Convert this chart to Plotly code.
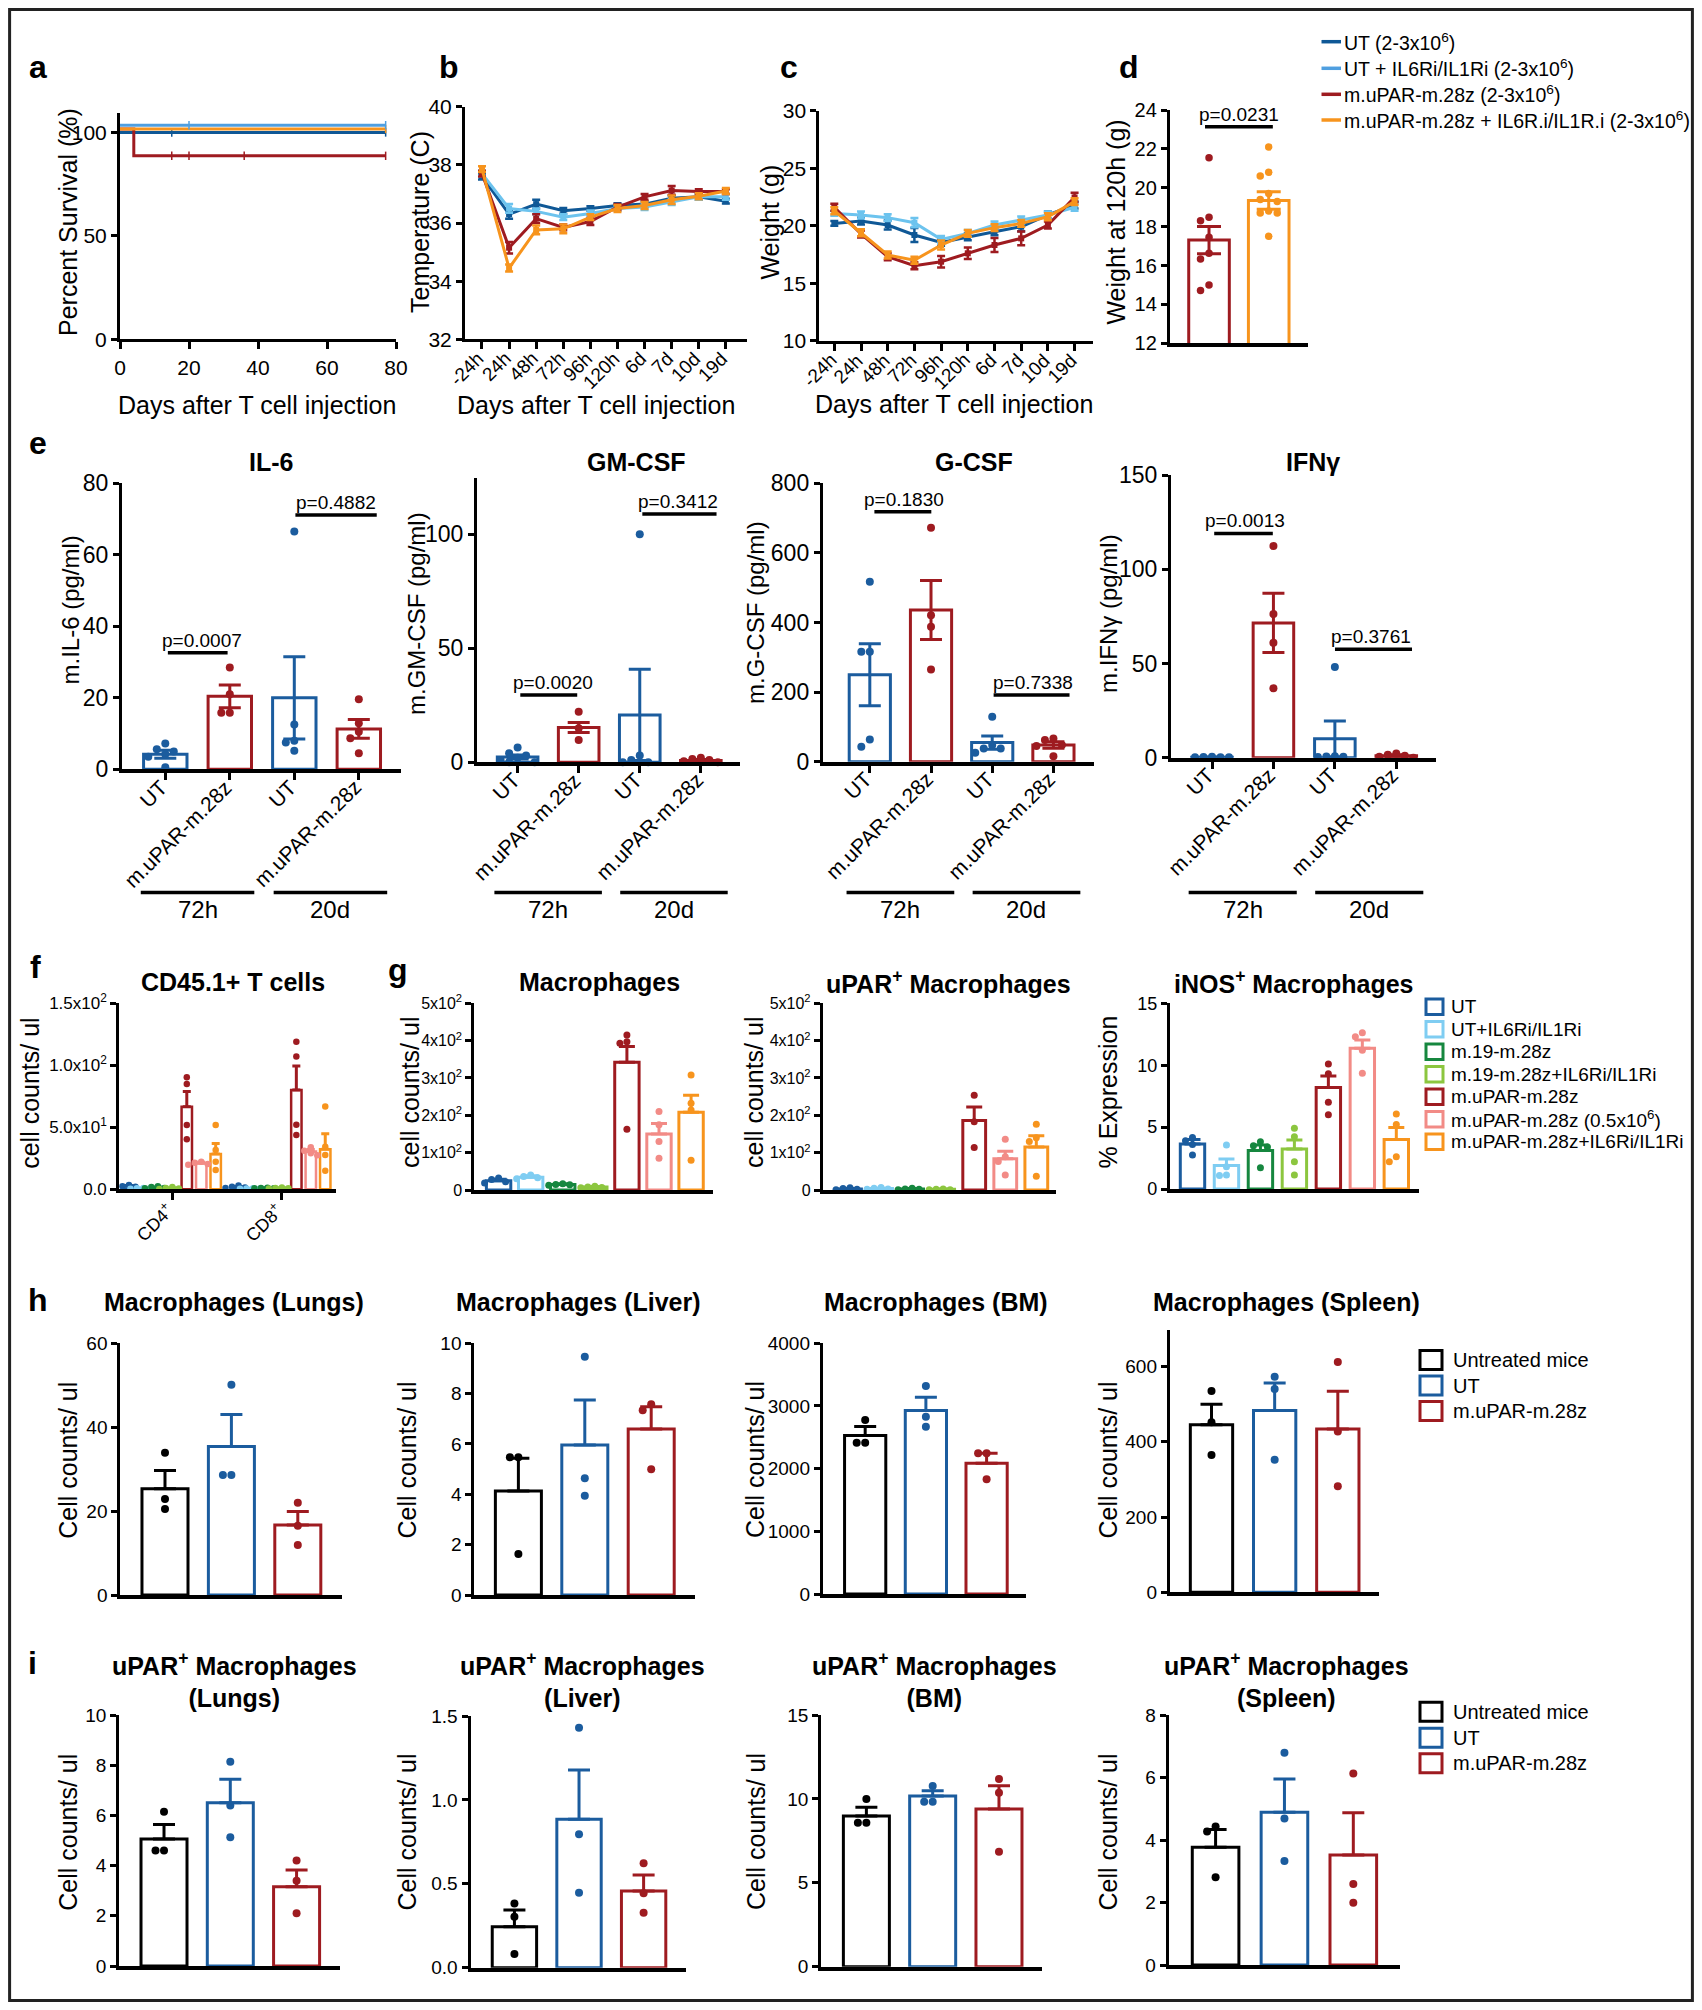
import plotly.graph_objects as go
import math

RW, RH = 1702, 2010          # reference pixel frame
W, H = 1686, 1994            # figure size (fits inside the page margins)
OFF = 8                      # page body margin
FONT = "Arial, Liberation Sans, Helvetica, sans-serif"

# ---------------- colours ----------------
C_UT = "#1b5c9e"
C_UT_IL = "#7fcdf2"
C_19 = "#16873f"
C_19_IL = "#8cc63f"
C_CAR = "#9e1b20"
C_CAR05 = "#f28b86"
C_CAR_IL = "#f7941d"
C_BLK = "#000000"
C_LINE_UT = "#0f5896"
C_LINE_UTIL = "#6cc3ee"
C_LEG_UTIL = "#4f9fe0"

# ---------------- data ----------------
# a: survival
surv_days = [0, 4, 77]
surv_ut = [100, 100, 100]
surv_ut_il = [103.5, 103.5, 103.5]
surv_car = [101.7, 88.7, 88.7]
surv_car_il = [101.7, 101.7, 101.7]
cens_ut = [15, 77]
cens_ut_il = [20, 77]
cens_car = [15, 20, 36, 77]
cens_car_il = [77]

# b, c: time course
time_labels = ["-24h", "24h", "48h", "72h", "96h", "120h", "6d", "7d", "10d", "19d"]
temp_ut = [37.6, 36.3, 36.65, 36.42, 36.5, 36.6, 36.65, 36.85, 36.9, 36.75]
temp_ut_il = [37.7, 36.5, 36.4, 36.2, 36.33, 36.5, 36.55, 36.72, 36.9, 36.9]
temp_car = [37.7, 35.15, 36.15, 35.85, 36.05, 36.55, 36.9, 37.12, 37.08, 37.08]
temp_car_il = [37.85, 34.45, 35.76, 35.8, 36.2, 36.5, 36.6, 36.8, 36.92, 37.1]
temp_ut_err = [0.1, 0.15, 0.15, 0.1, 0.08, 0.08, 0.1, 0.1, 0.1, 0.08]
temp_ut_il_err = [0.1, 0.15, 0.1, 0.1, 0.1, 0.08, 0.1, 0.1, 0.1, 0.1]
temp_car_err = [0.1, 0.2, 0.15, 0.1, 0.12, 0.1, 0.1, 0.15, 0.08, 0.08]
temp_car_il_err = [0.1, 0.12, 0.15, 0.15, 0.1, 0.12, 0.12, 0.15, 0.1, 0.1]

wt_ut = [20.2, 20.4, 20.06, 19.19, 18.55, 19.04, 19.48, 19.91, 20.93, 21.8]
wt_ut_il = [21.07, 20.93, 20.7, 20.26, 18.81, 19.33, 20.06, 20.49, 20.93, 21.6]
wt_car = [21.6, 19.28, 17.3, 16.52, 16.87, 17.6, 18.32, 18.9, 20.06, 22.46]
wt_car_il = [21.3, 19.39, 17.45, 17.0, 18.32, 19.33, 19.83, 20.2, 20.78, 22.09]
wt_ut_err = [0.2, 0.3, 0.4, 0.6, 0.3, 0.3, 0.3, 0.4, 0.3, 0.3]
wt_ut_il_err = [0.2, 0.3, 0.3, 0.4, 0.3, 0.3, 0.3, 0.3, 0.3, 0.3]
wt_car_err = [0.3, 0.3, 0.3, 0.3, 0.5, 0.5, 0.6, 0.6, 0.3, 0.4]
wt_car_il_err = [0.3, 0.3, 0.3, 0.3, 0.4, 0.3, 0.3, 0.3, 0.3, 0.3]

# d: weight at 120h
w120_mean = [17.31, 19.35]
w120_err = [0.7, 0.45]
w120_pts = [[21.55, 18.3, 18.48, 17.45, 16.63, 16.34, 15.0, 14.72],
            [22.1, 20.8, 20.6, 19.7, 19.4, 19.3, 18.8, 18.7, 18.7, 17.5]]

# e: cytokines
cyt_labels = ["UT", "m.uPAR-m.28z", "UT", "m.uPAR-m.28z"]
il6_mean = [4.2, 20.4, 20.0, 11.3]
il6_err = [1.1, 3.2, 11.5, 2.6]
il6_pts = [[7.2, 5.6, 5.0, 4.2, 3.5, 0.6], [28.5, 21.0, 15.8, 15.8],
           [66.5, 12.5, 8.0, 7.5, 5.2], [19.6, 12.9, 10.5, 8.7, 4.5]]
gm_mean = [2.3, 15.3, 20.8, 0.8]
gm_err = [0.9, 2.2, 20.0, 0.4]
gm_pts = [[6.5, 4.0, 3.0, 2.0, 1.0, 0.0, 0.0], [22.2, 14.9, 9.8],
          [100.0, 3.0, 1.0, 0.0, 0.0], [2.0, 1.0, 0.5, 0.0, 1.5]]
gcsf_mean = [250, 436, 55, 48]
gcsf_err = [89, 85, 19, 9]
gcsf_pts = [[517, 316, 316, 64, 43], [672, 421, 388, 265],
            [129, 38, 26, 38, 48], [67, 62, 48, 45, 16]]
ifn_mean = [0.3, 71.5, 10.0, 1.0]
ifn_err = [0.1, 15.7, 9.5, 0.5]
ifn_pts = [[0.5, 0.3, 0.2, 0.4, 0.3], [112.3, 76.2, 61.0, 36.8],
           [48.1, 0.8, 0.5, 0.4, 0.6], [2.2, 1.0, 0.0, 0.5, 1.5]]

# f: CD45.1+ T cells  (groups: UT, UT+IL, m.19, m.19+IL, m.uPAR, m.uPAR 0.5, m.uPAR+IL)
cd_groups = ["CD4<sup>+</sup>", "CD8<sup>+</sup>"]
cd4_mean = [2.5, 0.8, 1.5, 1.0, 66.5, 21.0, 28.5]
cd4_err = [0.5, 0.2, 0.4, 0.3, 12.3, 0.8, 8.5]
cd4_pts = [[3.5, 2.5, 2.0, 1.5], [1.0, 0.8, 0.6, 0.5], [2.5, 1.8, 1.0, 0.8], [1.8, 1.0, 0.6, 0.3],
           [90.3, 85.0, 51.9, 40.3], [22.3, 21.5, 20.5, 19.8], [51.9, 31.7, 22.3, 15.6]]
cd8_mean = [1.8, 0.6, 1.0, 1.0, 80.0, 30.5, 32.3]
cd8_err = [0.5, 0.2, 0.2, 0.3, 19.5, 1.5, 12.5]
cd8_pts = [[3.0, 2.0, 1.5, 1.0], [0.8, 0.6, 0.5, 0.4], [1.2, 1.0, 0.8, 0.8], [1.5, 1.0, 0.8, 0.6],
           [119.0, 107.0, 52.0, 43.8], [34.0, 31.0, 29.0, 27.5], [66.7, 34.4, 27.7, 15.0]]
cd_ticks = ["0.0", "5.0x10<sup>1</sup>", "1.0x10<sup>2</sup>", "1.5x10<sup>2</sup>"]

# g: macrophages
mac_mean = [25, 34, 15, 8, 342, 150, 208]
mac_err = [4, 4, 2, 1.5, 42, 28, 46]
mac_pts = [[32, 28, 22, 19], [40, 36, 33, 30], [17, 15, 14, 13], [10, 8, 7, 6],
           [415, 397, 393, 163], [210, 175, 130, 85], [308, 232, 214, 80]]
upar_mean = [3, 4, 3, 2, 186, 84, 115]
upar_err = [1, 1, 1, 0.5, 36, 20, 30]
upar_pts = [[6, 4, 2, 1], [7, 5, 3, 2], [5, 3, 2, 1], [3, 2, 1, 1],
            [254, 183, 114], [136, 89, 76, 40], [176, 140, 130, 37]]
inos_mean = [3.64, 1.89, 3.1, 3.23, 8.2, 11.37, 4.0]
inos_err = [0.36, 0.54, 0.45, 0.73, 0.93, 0.67, 0.96]
inos_pts = [[4.15, 3.9, 3.6, 2.75], [3.55, 1.8, 1.13, 1.1], [3.82, 3.5, 3.4, 1.72],
            [4.9, 4.23, 2.2, 1.13], [10.1, 9.3, 7.0, 6.0], [12.63, 12.3, 11.2, 9.35],
            [6.06, 5.2, 2.61, 2.2]]
sci_vals = [0, 100, 200, 300, 400, 500]
sci_txt = ["0", "1x10<sup>2</sup>", "2x10<sup>2</sup>", "3x10<sup>2</sup>", "4x10<sup>2</sup>", "5x10<sup>2</sup>"]
g_legend = ["UT", "UT+IL6Ri/IL1Ri", "m.19-m.28z", "m.19-m.28z+IL6Ri/IL1Ri", "m.uPAR-m.28z",
            "m.uPAR-m.28z (0.5x10<sup>6</sup>)", "m.uPAR-m.28z+IL6Ri/IL1Ri"]

# h: macrophages per organ (Untreated mice, UT, m.uPAR-m.28z)
h_lung_mean = [25.3, 35.4, 16.7]; h_lung_err = [4.4, 7.6, 3.2]
h_lung_pts = [[33.9, 22.9, 20.5], [50.1, 28.6, 28.6], [22.0, 16.5, 11.9]]
h_liver_mean = [4.13, 5.96, 6.6]; h_liver_err = [1.3, 1.79, 0.88]
h_liver_pts = [[5.47, 5.47, 1.63], [9.47, 4.64, 3.94], [7.58, 7.34, 5.0]]
h_bm_mean = [2530, 2926, 2085]; h_bm_err = [143, 212, 160]
h_bm_pts = [[2777, 2415, 2415], [3319, 2830, 2670], [2245, 2245, 1830]]
h_spl_mean = [445, 483, 434]; h_spl_err = [55, 73, 100]
h_spl_pts = [[535, 452, 365], [573, 540, 352], [612, 427, 282]]

# i: uPAR+ macrophages per organ
i_lung_mean = [5.06, 6.5, 3.16]; i_lung_err = [0.58, 0.94, 0.66]
i_lung_pts = [[6.15, 4.6, 4.6], [8.14, 6.39, 5.13], [4.2, 3.4, 2.1]]
i_liver_mean = [0.244, 0.884, 0.457]; i_liver_err = [0.1, 0.294, 0.095]
i_liver_pts = [[0.383, 0.304, 0.081], [1.43, 0.795, 0.447], [0.622, 0.443, 0.328]]
i_bm_mean = [8.98, 10.17, 9.4]; i_bm_err = [0.52, 0.32, 1.39]
i_bm_pts = [[9.99, 8.58, 8.58], [10.77, 9.83, 9.83], [11.19, 10.37, 6.85]]
i_spl_mean = [3.77, 4.89, 3.52]; i_spl_err = [0.57, 1.06, 1.35]
i_spl_pts = [[4.43, 4.27, 2.81], [6.79, 4.69, 3.33], [6.13, 2.59, 1.99]]
hi_legend = ["Untreated mice", "UT", "m.uPAR-m.28z"]

COLS7 = [C_UT, C_UT_IL, C_19, C_19_IL, C_CAR, C_CAR05, C_CAR_IL]
COLS3 = [C_BLK, C_UT, C_CAR]
COLS4 = [C_UT, C_CAR, C_UT, C_CAR]

# ---------------- helpers ----------------
fig = go.Figure()
_n = [0]


def PX(x):
    return (x - OFF) / W


def PY(y):
    return 1 - (y - OFF) / H


def make_axes(x0, x1, ytop, ybot, xr, yr, ytv, ytt=None, xtv=None, xtt=None,
              xangle=0, xfont=19, yfont=19, xlw=3.5, ylw=3, lab_dx=8, lab_dy=4):
    _n[0] += 1
    s = "" if _n[0] == 1 else str(_n[0])
    xa = dict(domain=[PX(x0), PX(x1)], range=xr, anchor="y" + s, showline=True,
              linecolor="black", linewidth=xlw, showgrid=False, zeroline=False,
              automargin=False, fixedrange=True,
              tickfont=dict(family=FONT, size=xfont, color="black"))
    if xtv is not None:
        xa.update(tickmode="array", tickvals=xtv, ticktext=xtt, ticks="outside",
                  ticklen=7, tickwidth=2.5, tickcolor="black",
                  showticklabels=(xangle == 0))
    else:
        xa.update(ticks="", showticklabels=False)
    ya = dict(domain=[PY(ybot), PY(ytop)], range=yr, anchor="x" + s, showline=True,
              linecolor="black", linewidth=ylw, showgrid=False, zeroline=False,
              automargin=False, fixedrange=True, tickmode="array", tickvals=ytv,
              ticktext=ytt if ytt is not None else [str(v) for v in ytv],
              ticks="outside", ticklen=6, tickwidth=2.5, tickcolor="black",
              tickfont=dict(family=FONT, size=yfont, color="black"))
    fig.update_layout(**{"xaxis" + s: xa, "yaxis" + s: ya})
    geom = dict(x0=x0, xr0=xr[0], xpu=(x1 - x0) / (xr[1] - xr[0]),
                ybot=ybot, yr0=yr[0], ypu=(ybot - ytop) / (yr[1] - yr[0]))
    ax = ("x" + s, "y" + s, geom)
    if xtv is not None and xangle != 0:
        # rotated category labels, ending just under their tick
        for v, lab in zip(xtv, xtt):
            fig.add_annotation(x=PX(data_to_px(ax, v) + lab_dx), y=PY(ybot + lab_dy),
                               xref="paper", yref="paper", text=lab, showarrow=False,
                               textangle=xangle, xanchor="right", yanchor="top",
                               font=dict(family=FONT, size=xfont, color="black"))
    return ax


def data_to_px(ax, x):
    g = ax[2]
    return g["x0"] + (x - g["xr0"]) * g["xpu"]


def text(xp, yp, s, size=19, bold=False, angle=0, xanchor="center", yanchor="middle", color="black"):
    if bold:
        s = "<b>" + s + "</b>"
    fig.add_annotation(x=PX(xp), y=PY(yp), xref="paper", yref="paper", text=s,
                       showarrow=False, textangle=angle, xanchor=xanchor, yanchor=yanchor,
                       font=dict(family=FONT, size=size, color=color))


def swarm(vals, ypu, xpu, d):
    order = sorted(range(len(vals)), key=lambda i: -vals[i])
    placed = []
    res = [0.0] * len(vals)
    for i in order:
        yy = vals[i] * ypu
        chosen = 0.0
        for k in [0, -1, 1, -2, 2, -3, 3, -4, 4]:
            o = k * d
            if all(math.hypot(o - po, yy - pyy) >= d - 0.5 for po, pyy in placed):
                chosen = o
                break
        placed.append((chosen, yy))
        res[i] = chosen / xpu
    return res


def bars(ax, xs, means, errs, cols, pts, up_only=False, cap=11, mk=8, barw=0.68, lw=3, sep=8.5):
    xa, ya, g = ax
    for x, m, e, c, p in zip(xs, means, errs, cols, pts):
        fig.add_trace(go.Bar(
            x=[x], y=[m], width=barw, xaxis=xa, yaxis=ya, showlegend=False, hoverinfo="skip",
            marker=dict(color="white", line=dict(color=c, width=lw)),
            error_y=dict(type="data", array=[e], arrayminus=[0 if up_only else e],
                         symmetric=False, color=c, thickness=3, width=cap)))
        offs = swarm(p, g["ypu"], g["xpu"], sep)
        fig.add_trace(go.Scatter(
            x=[x + o for o in offs], y=p, mode="markers", xaxis=xa, yaxis=ya,
            showlegend=False, hoverinfo="skip", cliponaxis=False,
            marker=dict(size=mk, color=c, line=dict(width=0))))


def pval(ax, x0, x1, y, label, tx):
    xa, ya, g = ax
    fig.add_shape(type="line", xref=xa, yref=ya, x0=x0, x1=x1, y0=y, y1=y,
                  line=dict(color="black", width=3.5))
    fig.add_annotation(x=tx, y=y, xref=xa, yref=ya, text=label, showarrow=False,
                       yanchor="bottom", yshift=0,
                       font=dict(family=FONT, size=19, color="black"))


def hline_px(x0, x1, y, width=3.5, color="black"):
    fig.add_shape(type="line", xref="paper", yref="paper", x0=PX(x0), x1=PX(x1),
                  y0=PY(y), y1=PY(y), line=dict(color=color, width=width))


def square_px(x0, x1, yc, h, color):
    fig.add_shape(type="rect", xref="paper", yref="paper", x0=PX(x0), x1=PX(x1),
                  y0=PY(yc + h / 2), y1=PY(yc - h / 2), line=dict(color=color, width=3),
                  fillcolor="white")


def step_at(days, vals, t):
    v = vals[0]
    for d_, vv in zip(days, vals):
        if d_ <= t:
            v = vv
    return v


# ---------------- panel a ----------------
ax_a = make_axes(120, 396, 113, 339.3, [0, 80], [0, 109.4], [0, 50, 100],
                 xtv=[0, 20, 40, 60, 80], xtt=["0", "20", "40", "60", "80"], xlw=3,
                 xfont=21, yfont=21)
for vals, cens, col in [(surv_ut, cens_ut, C_LINE_UT), (surv_car, cens_car, C_CAR),
                        (surv_car_il, cens_car_il, C_CAR_IL), (surv_ut_il, cens_ut_il, C_LEG_UTIL)]:
    fig.add_trace(go.Scatter(x=surv_days, y=vals, mode="lines", line=dict(color=col, width=3, shape="hv"),
                             xaxis=ax_a[0], yaxis=ax_a[1], showlegend=False, hoverinfo="skip"))
    fig.add_trace(go.Scatter(x=cens, y=[step_at(surv_days, vals, t) for t in cens], mode="markers",
                             marker=dict(symbol="line-ns-open", size=6, color=col,
                                         line=dict(color=col, width=1.5)),
                             xaxis=ax_a[0], yaxis=ax_a[1], showlegend=False, hoverinfo="skip",
                             cliponaxis=False))
text(38, 67, "a", size=32, bold=True)
text(68, 222, "Percent Survival (%)", size=25, angle=-90)
text(257, 405, "Days after T cell injection", size=25)

# ---------------- panels b, c ----------------
def line_panel(ax, series):
    for vals, errs, col in series:
        fig.add_trace(go.Scatter(
            x=list(range(len(vals))), y=vals, mode="lines+markers", xaxis=ax[0], yaxis=ax[1],
            line=dict(color=col, width=3), marker=dict(size=6, color=col, symbol="square"),
            error_y=dict(type="data", array=errs, color=col, thickness=2.5, width=4),
            showlegend=False, hoverinfo="skip", cliponaxis=False))


ax_b = make_axes(465, 747, 106.7, 339.3, [-0.627, 9.78], [32, 40], [32, 34, 36, 38, 40],
                 xtv=list(range(10)), xtt=time_labels, xangle=-45, xfont=19, yfont=21, xlw=3,
                 lab_dx=9, lab_dy=6)
line_panel(ax_b, [(temp_ut, temp_ut_err, C_LINE_UT), (temp_ut_il, temp_ut_il_err, C_LINE_UTIL),
                  (temp_car, temp_car_err, C_CAR), (temp_car_il, temp_car_il_err, C_CAR_IL)])
text(448.6, 67, "b", size=32, bold=True)
text(420, 222, "Temperature (C)", size=25, angle=-90)
text(596, 405, "Days after T cell injection", size=25)

ax_c = make_axes(819.3, 1093, 110.7, 340.7, [-0.562, 9.69], [10, 30], [10, 15, 20, 25, 30],
                 xtv=list(range(10)), xtt=time_labels, xangle=-45, xfont=19, yfont=21, xlw=3,
                 lab_dx=9, lab_dy=6)
line_panel(ax_c, [(wt_ut, wt_ut_err, C_LINE_UT), (wt_ut_il, wt_ut_il_err, C_LINE_UTIL),
                  (wt_car, wt_car_err, C_CAR), (wt_car_il, wt_car_il_err, C_CAR_IL)])
text(788.6, 67, "c", size=32, bold=True)
text(769.6, 222, "Weight (g)", size=25, angle=-90)
text(953.5, 404, "Days after T cell injection", size=25)

# ---------------- panel d ----------------
ax_d = make_axes(1169.8, 1308, 110, 343.3, [-0.657, 1.658], [12, 24],
                 [12, 14, 16, 18, 20, 22, 24], xlw=3.5, yfont=20)
bars(ax_d, [0, 1], w120_mean, w120_err, [C_CAR, C_CAR_IL], w120_pts, barw=0.68, cap=12, mk=7.5)
pval(ax_d, -0.067, 1.069, 23.14, "p=0.0231", 0.5)
text(1129, 67, "d", size=32, bold=True)
text(1115.6, 222, "Weight at 120h (g)", size=25, angle=-90)

# top legend
for i, (lab, col) in enumerate(zip(["UT (2-3x10<sup>6</sup>)", "UT + IL6Ri/IL1Ri (2-3x10<sup>6</sup>)",
                                     "m.uPAR-m.28z (2-3x10<sup>6</sup>)",
                                     "m.uPAR-m.28z + IL6R.i/IL1R.i (2-3x10<sup>6</sup>)"],
                                    [C_LINE_UT, C_LEG_UTIL, C_CAR, C_CAR_IL])):
    yy = [41.7, 68.3, 94.3, 120][i]
    hline_px(1321.5, 1341, yy, width=3.5, color=col)
    text(1342, yy, lab, size=19.5, xanchor="left")

# ---------------- row e ----------------
text(38, 443, "e", size=32, bold=True)


def cyto_panel(geo, yr, ytv, means, errs, pts, title, tx, ytitle, ytx, yty, pvals, bw):
    ax = make_axes(*geo[:4], geo[4], yr, ytv, xtv=[0, 1, 2, 3], xtt=cyt_labels, xangle=-45,
                   xfont=21, yfont=23, xlw=4, lab_dx=9, lab_dy=3)
    bars(ax, [0, 1, 2, 3], means, errs, COLS4, pts, barw=bw, cap=11, mk=8)
    for (a0, a1, yv, lab, txx) in pvals:
        pval(ax, a0, a1, yv, lab, txx)
    text(tx, 461.7, title, size=25, bold=True)
    text(ytx, yty, ytitle, size=24, angle=-90)
    # group brackets under axis
    for (g0, g1, gl, gc) in [(-0.38, 1.38, "72h", 0.5), (1.68, 3.44, "20d", 2.56)]:
        hline_px(data_to_px(ax, g0), data_to_px(ax, g1), 892.5, width=3.5)
        text(data_to_px(ax, gc), 909, gl, size=24)
    return ax


cyto_panel((122, 401, 483.3, 769.3, [-0.671, 3.654]), [0, 80], [0, 20, 40, 60, 80],
           il6_mean, il6_err, il6_pts, "IL-6", 271, "m.IL-6 (pg/ml)", 70.5, 610,
           [(0.04, 0.966, 32.6, "p=0.0007", 0.563), (2.017, 3.278, 71.1, "p=0.4882", 2.646)], 0.673)
cyto_panel((477, 739.8, 478.3, 762.3, [-0.665, 3.638]), [0, 124.6], [0, 50, 100],
           gm_mean, gm_err, gm_pts, "GM-CSF", 636.9, "m.GM-CSF (pg/ml)", 416, 614,
           [(0.044, 0.976, 29.5, "p=0.0020", 0.576), (2.042, 3.257, 108.9, "p=0.3412", 2.618)], 0.665)
cyto_panel((822.8, 1094, 483.3, 761.7, [-0.768, 3.663]), [0, 800], [0, 200, 400, 600, 800],
           gcsf_mean, gcsf_err, gcsf_pts, "G-CSF", 973.6, "m.G-CSF (pg/ml)", 755, 613,
           [(0.075, 1.005, 718, "p=0.1830", 0.562), (2.023, 3.263, 192, "p=0.7338", 2.662)], 0.673)
cyto_panel((1170.9, 1436.4, 475, 757.7, [-0.669, 3.653]), [0, 150], [0, 50, 100, 150],
           ifn_mean, ifn_err, ifn_pts, "IFNγ", 1313.4, "m.IFNγ (pg/ml)", 1108, 614,
           [(0.036, 0.99, 119, "p=0.0013", 0.531), (2.002, 3.256, 57.5, "p=0.3761", 2.595)], 0.66)

# ---------------- row f / g ----------------
text(35.2, 966.7, "f", size=32, bold=True)
text(398.4, 970, "g", size=32, bold=True)

ax_f = make_axes(119.2, 336, 1003.3, 1189.3, [-0.485, 1.494], [0, 150], [0, 50, 100, 150],
                 ytt=cd_ticks, xtv=[0, 1], xtt=cd_groups, xangle=-45, xfont=18, yfont=17, xlw=4,
                 lab_dx=8, lab_dy=7)
d_step = 14.45 / 109.5
for gi, (mn, er, pt) in enumerate([(cd4_mean, cd4_err, cd4_pts), (cd8_mean, cd8_err, cd8_pts)]):
    xs = [gi + (k - 3) * d_step for k in range(7)]
    bars(ax_f, xs, mn, er, COLS7, pt, up_only=True, cap=4, mk=6.5, barw=0.095, lw=2.5, sep=6.5)
text(233, 981.7, "CD45.1+ T cells", size=25, bold=True)
text(29.8, 1093, "cell counts/ ul", size=25, angle=-90)

ax_g1 = make_axes(474.3, 712.7, 1003.3, 1190, [-0.757, 6.674], [0, 500], sci_vals, ytt=sci_txt,
                  yfont=16, xlw=4)
bars(ax_g1, list(range(7)), mac_mean, mac_err, COLS7, mac_pts, up_only=True, cap=8, mk=7,
     barw=0.76, lw=3, sep=7)
text(599, 981.7, "Macrophages", size=25, bold=True)
text(410, 1093, "cell counts/ ul", size=25, angle=-90)

ax_g2 = make_axes(822.8, 1056, 1003.3, 1190, [-0.876, 6.634], [0, 500], sci_vals, ytt=sci_txt,
                  yfont=16, xlw=4)
bars(ax_g2, list(range(7)), upar_mean, upar_err, COLS7, upar_pts, up_only=True, cap=8, mk=7,
     barw=0.734, lw=3, sep=7)
text(948.4, 981.7, "uPAR<sup>+</sup> Macrophages", size=25, bold=True)
text(754, 1093, "cell counts/ ul", size=25, angle=-90)

ax_g3 = make_axes(1169.8, 1419, 1003.3, 1189, [-0.668, 6.668], [0, 15], [0, 5, 10, 15],
                  yfont=18, xlw=4)
bars(ax_g3, list(range(7)), inos_mean, inos_err, COLS7, inos_pts, up_only=True, cap=8, mk=7,
     barw=0.718, lw=3, sep=7)
text(1293.4, 981.7, "iNOS<sup>+</sup> Macrophages", size=25, bold=True)
text(1107.5, 1092, "% Expression", size=25, angle=-90)

for i, (lab, col) in enumerate(zip(g_legend, COLS7)):
    yy = 1006.7 + i * 22.5
    square_px(1426, 1443, yy, 15.5, col)
    text(1449, yy, lab, size=19, xanchor="left")

# ---------------- row h ----------------
text(38, 1300, "h", size=32, bold=True)


def organ_panel(geo, yr, ytv, means, errs, pts, bw, title, tx, ty, ytx, yty, ytt=None):
    ax = make_axes(*geo, yr, ytv, ytt=ytt, xlw=4, yfont=19)
    bars(ax, [0, 1, 2], means, errs, COLS3, pts, up_only=True, cap=11, mk=8, barw=bw, lw=3)
    text(tx, ty, title, size=25, bold=True)
    text(ytx, yty, "Cell counts/ ul", size=25, angle=-90)
    return ax


organ_panel((120.3, 341.5, 1343.3, 1595, [-0.673, 2.658]), [0, 60], [0, 20, 40, 60],
            h_lung_mean, h_lung_err, h_lung_pts, 0.693, "Macrophages (Lungs)", 234, 1301.7, 67.7, 1460)
organ_panel((474.3, 694.9, 1343.3, 1595, [-0.664, 2.658]), [0, 10], [0, 2, 4, 6, 8, 10],
            h_liver_mean, h_liver_err, h_liver_pts, 0.693, "Macrophages (Liver)", 578.9, 1301.7, 406.5, 1460)
organ_panel((822.8, 1026, 1343.3, 1594, [-0.698, 2.649]), [0, 4000], [0, 1000, 2000, 3000, 4000],
            h_bm_mean, h_bm_err, h_bm_pts, 0.679, "Macrophages (BM)", 935.6, 1301.7, 755, 1460)
organ_panel((1169.8, 1378.5, 1330, 1592.3, [-0.66, 2.644]), [0, 697], [0, 200, 400, 600],
            h_spl_mean, h_spl_err, h_spl_pts, 0.67, "Macrophages (Spleen)", 1286.3, 1301.7, 1107.5, 1460)
for i, (lab, col) in enumerate(zip(hi_legend, COLS3)):
    yy = [1360, 1385.5, 1411][i]
    square_px(1420, 1442, yy, 19, col)
    text(1450.5, yy, lab, size=20, xanchor="left")

# ---------------- row i ----------------
text(32.5, 1663.3, "i", size=32, bold=True)
organ_panel((119.2, 340.4, 1715, 1966, [-0.676, 2.661]), [0, 10], [0, 2, 4, 6, 8, 10],
            i_lung_mean, i_lung_err, i_lung_pts, 0.694, "uPAR<sup>+</sup> Macrophages<br>(Lungs)",
            234, 1680, 67.7, 1832)
organ_panel((470.5, 685.6, 1716, 1967.7, [-0.68, 2.65]), [0, 1.5], [0, 0.5, 1.0, 1.5],
            i_liver_mean, i_liver_err, i_liver_pts, 0.687, "uPAR<sup>+</sup> Macrophages<br>(Liver)",
            582.7, 1680, 406.5, 1832, ytt=["0.0", "0.5", "1.0", "1.5"])
organ_panel((821.1, 1042.4, 1715, 1966.7, [-0.683, 2.655]), [0, 15], [0, 5, 10, 15],
            i_bm_mean, i_bm_err, i_bm_pts, 0.694, "uPAR<sup>+</sup> Macrophages<br>(BM)",
            934, 1680, 756, 1832)
organ_panel((1168.7, 1400, 1715, 1965, [-0.681, 2.678]), [0, 8], [0, 2, 4, 6, 8],
            i_spl_mean, i_spl_err, i_spl_pts, 0.677, "uPAR<sup>+</sup> Macrophages<br>(Spleen)",
            1286.3, 1680, 1107.5, 1832)
for i, (lab, col) in enumerate(zip(hi_legend, COLS3)):
    yy = [1711.7, 1737.7, 1763.3][i]
    square_px(1420, 1442, yy, 19, col)
    text(1450.5, yy, lab, size=20, xanchor="left")

# outer frame (kept just inside the figure edges)
fig.add_shape(type="rect", xref="paper", yref="paper", x0=1.6 / W, x1=1 - 1.6 / W,
              y0=1.6 / H, y1=1 - 1.6 / H, line=dict(color="#222222", width=3), layer="above")

fig.update_layout(width=W, height=H, margin=dict(l=0, r=0, t=0, b=0, autoexpand=False),
                  plot_bgcolor="white", paper_bgcolor="white", barmode="overlay", showlegend=False,
                  font=dict(family=FONT, color="black"))
fig.write_html("out.html")
